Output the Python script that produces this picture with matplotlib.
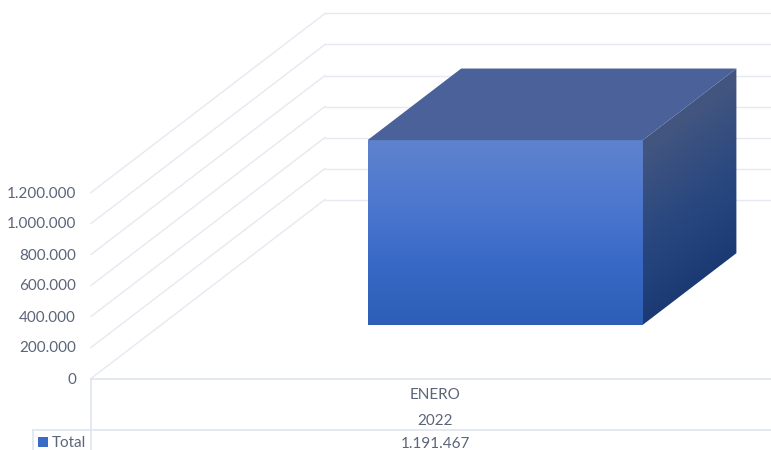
import numpy as np
import matplotlib
matplotlib.use('Agg')
import matplotlib.pyplot as plt
from matplotlib.patches import Polygon, Rectangle
from matplotlib.colors import LinearSegmentedColormap

# Datos
mes = ['ENERO']
anio = ['2022']
serie = 'Total'
valores = [1191467]
ticks = [0, 200000, 400000, 600000, 800000, 1000000, 1200000]

# Geometria de la vista 3D, en pixeles de la figura
W, H = 771, 450
x0_px = 91        # origen del eje
y0_px = 378.5
cat_px = 688      # ancho de una categoria
px_por_valor = 31 / 200000
dx_fondo = 234 / cat_px                 # corrimiento de la pared del fondo
dy_fondo = 179 / px_por_valor
prof_bar = (0.3, 0.7)                   # profundidad de la barra
gap = 0.3                               # margen a cada lado de la barra
fs = 11

# Colores
c_grid = '#e6e9f0'
c_linea = '#dfe4ee'
c_texto = '#5b6579'
c_marca = '#3a6bc8'
c_techo = '#4a6299'

plt.rcParams['font.family'] = ['Lato', 'DejaVu Sans']

fig = plt.figure(figsize=(W / 100, H / 100), dpi=100, facecolor='white')
ax = fig.add_axes([0, 0, 1, 1])
ax.axis('off')


def proy(x, v, d=0.0):
    # pasa (categoria, valor, profundidad) a las coordenadas del eje
    return x + d * dx_fondo, v + d * dy_fondo


def px_y(p):
    # fila en pixeles desde arriba a coordenada de valor
    return (y0_px - p) / px_por_valor


def px_x(p):
    return (p - x0_px) / cat_px


# Grilla: pared izquierda y pared del fondo
for t in ticks:
    xa, ya = proy(0, t)
    xb, yb = proy(0, t, 1)
    ax.plot([xa, xb], [ya, yb], color=c_grid, lw=1, zorder=1)
    ax.plot([xb, px_x(W)], [yb, yb], color=c_grid, lw=1, zorder=1)
    ax.text(px_x(76), t - 1.0 / px_por_valor, f'{t:,}'.replace(',', '.'), ha='right', va='center',
            fontsize=fs, color=c_texto)

# Tabla de datos bajo el eje
ax.plot([0, px_x(W)], [0, 0], color=c_linea, lw=1.2, zorder=1)
ax.plot([px_x(33), px_x(W)], [px_y(429.5)] * 2, color=c_linea, lw=1.2, zorder=1)
ax.plot([0, 0], [0, px_y(H)], color=c_linea, lw=1.2, zorder=1)
ax.plot([px_x(33)] * 2, [px_y(429.5), px_y(H)], color=c_linea, lw=1.2, zorder=1)

ax.add_patch(Rectangle((px_x(38), px_y(447)), 10 / cat_px, 10 / px_por_valor,
                       color=c_marca, lw=0))
ax.text(px_x(52), px_y(443), serie, ha='left', va='center', fontsize=fs, color=c_texto)
ax.text(0.5, px_y(395), mes[0], ha='center', va='center', fontsize=fs, color=c_texto)
ax.text(0.5, px_y(421), anio[0], ha='center', va='center', fontsize=fs, color=c_texto)
ax.text(0.5, px_y(444), f'{valores[0]:,}'.replace(',', '.'), ha='center', va='center',
        fontsize=fs, color=c_texto)

# Barra 3D
v = valores[0]
x1, x2 = gap, 1 - gap
d1, d2 = prof_bar

# cara frontal con degradado vertical
frente = [proy(x1, 0, d1), proy(x2, 0, d1), proy(x2, v, d1), proy(x1, v, d1)]
cm_frente = LinearSegmentedColormap.from_list('frente', ['#5f82cd', '#4d78cf', '#3869c6', '#2d5fb6'])
img = ax.imshow(np.linspace(0, 1, 256).reshape(-1, 1), cmap=cm_frente, aspect='auto',
                extent=(frente[0][0], frente[1][0], frente[0][1], frente[2][1]),
                interpolation='bilinear', zorder=3)
img.set_clip_path(Polygon(frente, transform=ax.transData))

# cara lateral con degradado en diagonal
lado = [proy(x2, 0, d1), proy(x2, 0, d2), proy(x2, v, d2), proy(x2, v, d1)]
cm_lado = LinearSegmentedColormap.from_list('lado', ['#41557f', '#41557f', '#2a4880', '#1b3a74'])
gx, gy = np.meshgrid(np.linspace(0, 1, 128), np.linspace(0, 1, 256))
xs = [p[0] for p in lado]
ys = [p[1] for p in lado]
img2 = ax.imshow(np.clip(0.28 * gx + gy, 0, 1), cmap=cm_lado, aspect='auto', vmin=0, vmax=1,
                 extent=(min(xs), max(xs), min(ys), max(ys)), interpolation='bilinear', zorder=3)
img2.set_clip_path(Polygon(lado, transform=ax.transData))

# cara superior
techo = [proy(x1, v, d1), proy(x2, v, d1), proy(x2, v, d2), proy(x1, v, d2)]
ax.add_patch(Polygon(techo, closed=True, facecolor=c_techo, edgecolor='none', zorder=3))

# Limites despues de imshow
ax.set_xlim(px_x(0), px_x(W))
ax.set_ylim(px_y(H), px_y(0))

fig.savefig('out.png', dpi=100)
